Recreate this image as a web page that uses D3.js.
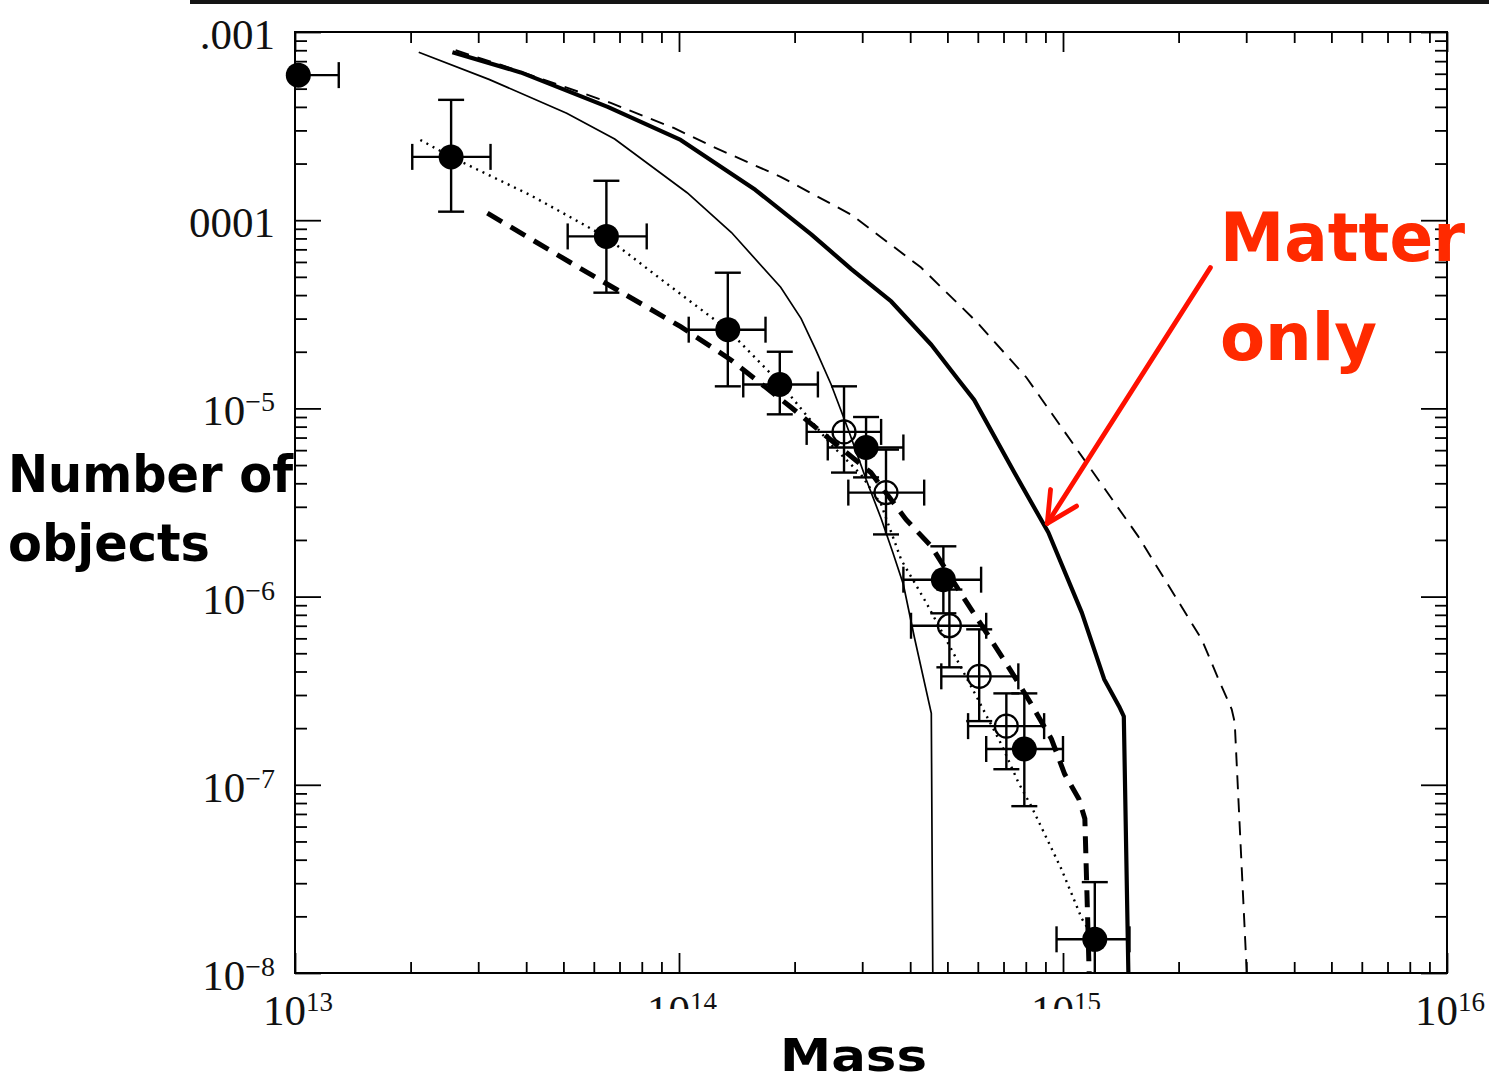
<!DOCTYPE html>
<html>
<head>
<meta charset="utf-8">
<script src="https://cdn.jsdelivr.net/npm/d3@7"></script>
<style>
  html, body { margin: 0; padding: 0; background: #fff; }
  svg { display: block; }
</style>
</head>
<body>
<script>
// ---------------- DATA ----------------
// thin solid model curve
const thinMass = [2.1e13, 3.2e13, 5.1e13, 6.8e13, 1.05e14, 1.37e14, 1.84e14, 2.08e14, 2.27e14, 2.49e14, 2.76e14, 3.07e14, 3.36e14, 3.61e14, 3.84e14, 4.1e14, 4.54e14, 4.58e14];
const thinN    = [7.8e-4, 5.6e-4, 3.7e-4, 2.7e-4, 1.4e-4, 8.6e-5, 4.4e-5, 3.0e-5, 2.05e-5, 1.34e-5, 7.7e-6, 4.2e-6, 2.6e-6, 1.7e-6, 1.16e-6, 6.1e-7, 2.4e-7, 1.0e-8];
// thick solid ("Matter only") model curve
const thickMass = [2.57e13, 3.87e13, 6.52e13, 1.01e14, 1.58e14, 2.21e14, 2.81e14, 3.57e14, 4.54e14, 5.34e14, 5.87e14, 7.47e14, 9.16e14, 1.12e15, 1.28e15, 1.40e15, 1.44e15, 1.48e15];
const thickN    = [7.8e-4, 6.1e-4, 4.0e-4, 2.67e-4, 1.45e-4, 8.4e-5, 5.5e-5, 3.7e-5, 2.18e-5, 1.42e-5, 1.11e-5, 4.56e-6, 2.19e-6, 8.2e-7, 3.64e-7, 2.61e-7, 2.31e-7, 1.0e-8];
// thin dashed model curve
const dashMass = [2.62e13, 3.43e13, 6.64e13, 9.69e13, 1.23e14, 1.84e14, 2.81e14, 4.27e14, 5.95e14, 8.03e14, 1.15e15, 1.57e15, 1.98e15, 2.30e15, 2.54e15, 2.75e15, 2.80e15, 3.01e15];
const dashN    = [8.0e-4, 6.7e-4, 4.2e-4, 3.09e-4, 2.45e-4, 1.70e-4, 1.07e-4, 5.6e-5, 2.89e-5, 1.46e-5, 5.15e-6, 2.09e-6, 9.7e-7, 5.9e-7, 3.64e-7, 2.52e-7, 2.15e-7, 1.0e-8];
// thick dashed model curve
const thickDashMass = [3.17e13, 5.78e13, 1.01e14, 1.36e14, 1.95e14, 2.39e14, 3.16e14, 3.90e14, 4.54e14, 5.37e14, 6.31e14, 7.33e14, 8.27e14, 9.33e14, 1.01e15, 1.10e15, 1.14e15, 1.17e15];
const thickDashN    = [1.09e-4, 5.26e-5, 2.72e-5, 1.82e-5, 1.02e-5, 7.26e-6, 4.56e-6, 2.57e-6, 1.85e-6, 1.07e-6, 6.46e-7, 4.01e-7, 2.68e-7, 1.75e-7, 1.14e-7, 8.4e-8, 6.6e-8, 1.0e-8];
// dotted curve through the data
const dotMass = [2.12e13, 2.55e13, 4.10e13, 6.44e13, 9.23e13, 1.34e14, 1.84e14, 2.14e14, 2.49e14, 2.98e14, 3.36e14, 3.79e14, 4.40e14, 5.12e14, 5.95e14, 6.91e14, 7.65e14, 8.27e14, 9.91e14, 1.12e15, 1.21e15];
const dotN    = [2.67e-4, 2.17e-4, 1.36e-4, 8.17e-5, 4.65e-5, 2.62e-5, 1.35e-5, 9.27e-6, 6.42e-6, 4.45e-6, 3.09e-6, 1.57e-6, 9.31e-7, 5.25e-7, 2.95e-7, 1.64e-7, 1.03e-7, 7.69e-8, 3.56e-8, 1.94e-8, 1.51e-8];

// filled data points with error ranges
const filledMass   = [1.02e13, 2.55e13, 6.47e13, 1.34e14, 1.83e14, 3.07e14, 4.88e14, 7.93e14, 1.21e15];
const filledN      = [5.9e-4, 2.17e-4, 8.2e-5, 2.62e-5, 1.34e-5, 6.2e-6, 1.23e-6, 1.55e-7, 1.51e-8];
const filledMassLo = [1.02e13, 2.02e13, 5.13e13, 1.06e14, 1.47e14, 2.44e14, 3.84e14, 6.31e14, 9.62e14];
const filledMassHi = [1.30e13, 3.23e13, 8.24e13, 1.68e14, 2.30e14, 3.84e14, 6.12e14, 1.00e15, 1.49e15];
const filledNLo    = [5.9e-4, 1.11e-4, 4.12e-5, 1.31e-5, 9.3e-6, 4.3e-6, 8.15e-7, 7.7e-8, 1.0e-8];
const filledNHi    = [5.9e-4, 4.36e-4, 1.62e-4, 5.26e-5, 2.0e-5, 9.0e-6, 1.85e-6, 3.06e-7, 3.04e-8];

// open data points with error ranges
const openMass   = [2.69e14, 3.46e14, 5.06e14, 6.05e14, 7.12e14];
const openN      = [7.5e-6, 3.57e-6, 7.0e-7, 3.77e-7, 2.05e-7];
const openMassLo = [2.15e14, 2.76e14, 4.02e14, 4.82e14, 5.66e14];
const openMassHi = [3.36e14, 4.35e14, 6.31e14, 7.65e14, 8.93e14];
const openNLo    = [4.56e-6, 2.14e-6, 4.21e-7, 2.18e-7, 1.21e-7];
const openNHi    = [1.31e-5, 6.04e-6, 1.09e-6, 6.7e-7, 3.06e-7];

// axis tick labels
const xTickValues = [1e13, 1e14, 1e15, 1e16];
const xTickLabels = ["10^13", "10^14", "10^15", "10^16"];
const yTickValues = [1e-3, 1e-4, 1e-5, 1e-6, 1e-7, 1e-8];
const yTickLabels = [".001", ".0001", "10^\u22125", "10^\u22126", "10^\u22127", "10^\u22128"];

// texts
const yTitleLines = ["Number of", "objects"];
const xTitle = "Mass";
const noteLines = ["Matter", "only"];
// annotation arrow (data coords): tail -> tip on the "matter only" curve
const arrowTail = [2.42e15, 5.6e-5];
const arrowTip = [9.1e14, 2.45e-6];

// ---------------- DRAW ----------------
const W = 1489, H = 1082;
const svg = d3.select("body").append("svg").attr("width", W).attr("height", H);

const L = 295, R = 1447, T = 32, B = 973;
const x = d3.scaleLog().domain([1e13, 1e16]).range([L, R]);
const y = d3.scaleLog().domain([1e-8, 1e-3]).range([B, T]);

// scan edge band at the top
svg.append("rect").attr("x", 190).attr("y", 0).attr("width", W - 190).attr("height", 4).attr("fill", "#151515");

// clip for scanned region
const defs = svg.append("defs");
defs.append("clipPath").attr("id", "scanClip").append("rect")
  .attr("x", 190).attr("y", 0).attr("width", W - 190).attr("height", H);

// axes ticks
function minorTicks(domain) {
  const out = [];
  const lo = Math.round(Math.log10(domain[0])), hi = Math.round(Math.log10(domain[1]));
  for (let e = lo; e < hi; e++) for (let m = 2; m <= 9; m++) out.push(m * Math.pow(10, e));
  return out;
}
const xMinor = minorTicks([1e13, 1e16]);
const yMinor = minorTicks([1e-8, 1e-3]);

const axG = svg.append("g").attr("class", "axes");
function addAxis(gen, transform) {
  const g = axG.append("g").attr("transform", transform).call(gen);
  g.select(".domain").remove();
  g.selectAll("line").attr("stroke", "#000").attr("stroke-width", 1.8);
  g.selectAll("text").remove();
}
addAxis(d3.axisBottom(x).tickValues(xTickValues).tickSize(-20).tickFormat(""), `translate(0,${B})`);
addAxis(d3.axisBottom(x).tickValues(xMinor).tickSize(-11).tickFormat(""), `translate(0,${B})`);
addAxis(d3.axisTop(x).tickValues(xTickValues).tickSize(-20).tickFormat(""), `translate(0,${T})`);
addAxis(d3.axisTop(x).tickValues(xMinor).tickSize(-11).tickFormat(""), `translate(0,${T})`);
addAxis(d3.axisLeft(y).tickValues(yTickValues).tickSize(-26).tickFormat(""), `translate(${L},0)`);
addAxis(d3.axisLeft(y).tickValues(yMinor).tickSize(-12).tickFormat(""), `translate(${L},0)`);
addAxis(d3.axisRight(y).tickValues(yTickValues).tickSize(-26).tickFormat(""), `translate(${R},0)`);
addAxis(d3.axisRight(y).tickValues(yMinor).tickSize(-12).tickFormat(""), `translate(${R},0)`);

// frame
svg.append("rect").attr("x", L).attr("y", T).attr("width", R - L).attr("height", B - T)
  .attr("fill", "none").attr("stroke", "#000").attr("stroke-width", 2);

// tick labels
function addSupText(g, str, px, py, anchor, baseSize, supSize, supRise) {
  const parts = str.split("^");
  const t = g.append("text").attr("x", px).attr("y", py).attr("text-anchor", anchor)
    .attr("font-family", "'Liberation Serif', 'DejaVu Serif', serif")
    .attr("font-size", baseSize).attr("fill", "#111");
  t.append("tspan").text(parts[0]);
  if (parts.length > 1) {
    t.append("tspan").attr("dy", -supRise).attr("font-size", supSize).text(parts[1]);
  }
  return t;
}
const yLabG = svg.append("g").attr("clip-path", "url(#scanClip)");
yTickValues.forEach((v, i) => {
  addSupText(yLabG, yTickLabels[i], 275, y(v) + 17, "end", 43, 28, 14);
});
const xLabG = svg.append("g");
xTickValues.forEach((v, i) => {
  addSupText(xLabG, xTickLabels[i], x(v) + 3, 1025, "middle", 43, 27, 14);
});
// the lower part of the middle x labels is hidden in the reference
svg.append("rect").attr("x", 600).attr("y", 1009).attr("width", 525).attr("height", 40).attr("fill", "#fff");

// model lines
const line = d3.line().x(d => x(d[0])).y(d => y(d[1]));
const zip = (a, b) => a.map((v, i) => [v, b[i]]);
const curves = svg.append("g").attr("fill", "none").attr("stroke", "#000");
curves.append("path").datum(zip(thinMass, thinN)).attr("d", line).attr("stroke-width", 1.7);
curves.append("path").datum(zip(thickMass, thickN)).attr("d", line).attr("stroke-width", 4.2).attr("stroke-linejoin", "round");
curves.append("path").datum(zip(dashMass, dashN)).attr("d", line).attr("stroke-width", 1.9).attr("stroke-dasharray", "14,9");
curves.append("path").datum(zip(thickDashMass, thickDashN)).attr("d", line).attr("stroke-width", 5).attr("stroke-dasharray", "17,10");
curves.append("path").datum(zip(dotMass, dotN)).attr("d", line).attr("stroke-width", 2.4).attr("stroke-dasharray", "2,5");

// error bars + markers
function drawPoints(mass, n, mLo, mHi, nLo, nHi, filled) {
  const g = svg.append("g").attr("stroke", "#000").attr("stroke-width", 2.4).attr("fill", "none");
  const cap = 13;
  mass.forEach((m, i) => {
    const cx = x(m), cy = y(n[i]);
    const x0 = x(mLo[i]), x1 = x(mHi[i]);
    const yTop = y(nHi[i]), yBot = y(nLo[i]);
    g.append("line").attr("x1", x0).attr("x2", x1).attr("y1", cy).attr("y2", cy);
    if (mLo[i] < m) g.append("line").attr("x1", x0).attr("x2", x0).attr("y1", cy - cap).attr("y2", cy + cap);
    if (mHi[i] > m) g.append("line").attr("x1", x1).attr("x2", x1).attr("y1", cy - cap).attr("y2", cy + cap);
    if (nHi[i] > n[i] || nLo[i] < n[i]) {
      g.append("line").attr("x1", cx).attr("x2", cx).attr("y1", yTop).attr("y2", yBot);
      if (nHi[i] > n[i]) g.append("line").attr("x1", cx - cap).attr("x2", cx + cap).attr("y1", yTop).attr("y2", yTop);
      if (nLo[i] < n[i] && nLo[i] > 1e-8) g.append("line").attr("x1", cx - cap).attr("x2", cx + cap).attr("y1", yBot).attr("y2", yBot);
    }
    if (filled) {
      g.append("circle").attr("cx", cx).attr("cy", cy).attr("r", 12.5).attr("fill", "#000").attr("stroke", "none");
    } else {
      g.append("circle").attr("cx", cx).attr("cy", cy).attr("r", 11.5).attr("fill", "none").attr("stroke-width", 2.2);
    }
  });
}
drawPoints(openMass, openN, openMassLo, openMassHi, openNLo, openNHi, false);
drawPoints(filledMass, filledN, filledMassLo, filledMassHi, filledNLo, filledNHi, true);

// titles
const boldFont = "'DejaVu Sans', 'Liberation Sans', sans-serif";
svg.append("text").attr("x", 8).attr("y", 492).attr("font-family", boldFont).attr("font-weight", "bold")
  .attr("font-size", 52).attr("textLength", 285).attr("lengthAdjust", "spacingAndGlyphs").text(yTitleLines[0]);
svg.append("text").attr("x", 8).attr("y", 561).attr("font-family", boldFont).attr("font-weight", "bold")
  .attr("font-size", 52).attr("textLength", 202).attr("lengthAdjust", "spacingAndGlyphs").text(yTitleLines[1]);
svg.append("text").attr("x", 780).attr("y", 1071).attr("font-family", boldFont).attr("font-weight", "bold")
  .attr("font-size", 45).attr("textLength", 147).attr("lengthAdjust", "spacingAndGlyphs").text(xTitle);

// red annotation
const red = "#ff2a00";
svg.append("text").attr("x", 1220).attr("y", 261).attr("font-family", boldFont).attr("font-weight", "bold")
  .attr("font-size", 67).attr("fill", red).attr("textLength", 245).attr("lengthAdjust", "spacingAndGlyphs").text(noteLines[0]);
svg.append("text").attr("x", 1220).attr("y", 360).attr("font-family", boldFont).attr("font-weight", "bold")
  .attr("font-size", 66).attr("fill", red).attr("textLength", 157).attr("lengthAdjust", "spacingAndGlyphs").text(noteLines[1]);

const tx = x(arrowTip[0]), ty = y(arrowTip[1]);
const sx = x(arrowTail[0]), sy = y(arrowTail[1]);
const ang = Math.atan2(sy - ty, sx - tx);
const wl = 34, wa = 27 * Math.PI / 180;
const ag = svg.append("g").attr("stroke", "#ff1000").attr("stroke-width", 4.8).attr("stroke-linecap", "round").attr("fill", "none");
ag.append("line").attr("x1", sx).attr("y1", sy).attr("x2", tx).attr("y2", ty);
ag.append("path").attr("stroke-linejoin", "round")
  .attr("d", `M${tx + wl * Math.cos(ang - wa)},${ty + wl * Math.sin(ang - wa)} L${tx},${ty} L${tx + wl * Math.cos(ang + wa)},${ty + wl * Math.sin(ang + wa)}`);
</script>
</body>
</html>
